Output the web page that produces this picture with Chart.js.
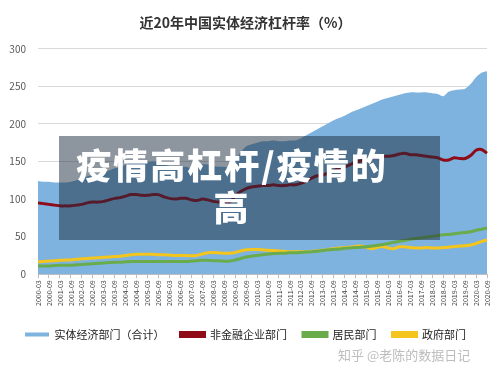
<!DOCTYPE html>
<html>
<head>
<meta charset="utf-8">
<script src="https://cdn.jsdelivr.net/npm/chart.js@4/dist/chart.umd.min.js"></script>
<style>
  html, body { margin: 0; padding: 0; background: #fff; }
  #wrap { position: relative; width: 500px; height: 378px; overflow: hidden; }
  #banner { position: absolute; left: 59px; top: 136px; width: 381px; height: 104px; background: rgba(28, 44, 62, 0.5); }
  #bannerText { position: absolute; left: 59px; top: 143px; width: 346px; text-align: center; color: #fff;
    font-family: "Noto Sans CJK SC", sans-serif; font-weight: 900; font-size: 35px; letter-spacing: 2px; line-height: 42px; }
  #mark { position: absolute; left: 338px; top: 345px; font-family: "Noto Sans CJK SC", sans-serif; font-size: 13px; color: #bdbdbd; }
</style>
</head>
<body>
<div id="wrap">
  <canvas id="leverageChart" width="500" height="378"></canvas>
  <div id="banner"></div>
  <div id="bannerText">疫情高杠杆/疫情的<br>高</div>
  <div id="mark">知乎 @老陈的数据日记</div>
</div>
<script>
const quarters = [
    '2000-03', '2000-06', '2000-09', '2000-12', '2001-03', '2001-06', '2001-09', '2001-12',
    '2002-03', '2002-06', '2002-09', '2002-12', '2003-03', '2003-06', '2003-09', '2003-12',
    '2004-03', '2004-06', '2004-09', '2004-12', '2005-03', '2005-06', '2005-09', '2005-12',
    '2006-03', '2006-06', '2006-09', '2006-12', '2007-03', '2007-06', '2007-09', '2007-12',
    '2008-03', '2008-06', '2008-09', '2008-12', '2009-03', '2009-06', '2009-09', '2009-12',
    '2010-03', '2010-06', '2010-09', '2010-12', '2011-03', '2011-06', '2011-09', '2011-12',
    '2012-03', '2012-06', '2012-09', '2012-12', '2013-03', '2013-06', '2013-09', '2013-12',
    '2014-03', '2014-06', '2014-09', '2014-12', '2015-03', '2015-06', '2015-09', '2015-12',
    '2016-03', '2016-06', '2016-09', '2016-12', '2017-03', '2017-06', '2017-09', '2017-12',
    '2018-03', '2018-06', '2018-09', '2018-12', '2019-03', '2019-06', '2019-09', '2019-12',
    '2020-03', '2020-06', '2020-09'
];

// 实体经济部门（合计）
const totalSector = [
    124, 123, 123, 122, 122, 122, 123, 125,
    127, 130, 132, 133, 135, 138, 141, 142,
    146, 149, 150, 149, 149, 150, 149, 146,
    144, 142, 143, 143, 141, 141, 146, 146,
    144, 143, 143, 142, 152, 162, 170, 173,
    175, 177, 177, 178, 177, 177, 178, 178,
    181, 185, 189, 193, 197, 201, 205, 208,
    211, 215, 218, 221, 224, 227, 230, 233,
    235, 237, 239, 241, 242, 242, 242, 242,
    241, 240, 237, 243, 245, 246, 247, 253,
    262, 268, 270
];

// 非金融企业部门
const corporate = [
    95, 94, 93, 92, 91, 91, 91, 92,
    93, 95, 96, 96, 97, 99, 101, 102,
    104, 106, 106, 105, 105, 106, 106, 103,
    101, 100, 101, 101, 99, 98, 100, 99,
    97, 96, 97, 96, 104, 110, 114, 116,
    117, 118, 118, 119, 118, 118, 119, 119,
    121, 124, 128, 131, 132, 135, 138, 141,
    143, 146, 149, 151, 153, 155, 156, 157,
    157, 158, 160, 161, 159, 159, 158, 157,
    156, 155, 152, 152, 155, 154, 154, 158,
    165, 166, 161
];

// 居民部门
const household = [
    11, 11, 11, 11.5, 12, 12, 12, 12.5,
    13, 13.5, 14, 14.5, 15, 15.5, 16, 16,
    16.5, 17, 17, 17, 17, 17, 17, 17,
    17, 17, 17, 17, 17.5, 18, 18.5, 18.5,
    18, 18, 17.5, 17.5, 19, 21, 23, 24,
    25, 26, 27, 27.5, 28, 28, 28.5, 28.5,
    29, 29.5, 30, 30.5, 31.5, 32.5, 33, 33.5,
    34.5, 35, 35.5, 36, 36.5, 37.5, 38.5, 39.5,
    41, 42.5, 44, 45, 46.5, 47.5, 48.5, 49.5,
    50.5, 51.5, 52.5, 53, 54, 55, 55.5, 56.5,
    58.5, 60, 61.5
];

// 政府部门
const government = [
    16.5, 17, 17.5, 18, 18.5, 19, 19, 20,
    20.5, 21, 21.5, 22, 22.5, 23, 23.5, 24,
    25, 26, 26.5, 26.5, 26.5, 26.5, 26, 26,
    25.5, 25, 25, 25, 24.5, 25, 27, 28.5,
    29, 28.5, 28, 28, 29, 31, 32.5, 33,
    33, 32.5, 32, 31.5, 31, 30.5, 30, 30,
    30, 30, 30.5, 31, 32, 33, 34, 35,
    35.5, 36, 37, 37.5, 36, 34, 36, 37,
    35, 34, 36.5, 36.5, 35.5, 35, 35, 35.5,
    35, 35, 35.5, 36, 37, 37.5, 38, 39,
    41, 43.5, 45.5
];

const yTicks = [0, 50, 100, 150, 200, 250, 300];

Chart.defaults.font.family = '"Noto Sans CJK SC", "Liberation Sans", sans-serif';

function lineSet(label, data, color) {
    return {
        label: label,
        data: data,
        borderColor: color,
        backgroundColor: color,
        borderWidth: 3,
        pointRadius: 0,
        tension: 0.3,
        fill: false
    };
}

new Chart(document.getElementById('leverageChart').getContext('2d'), {
    type: 'line',
    data: {
        labels: quarters,
        datasets: [
            {
                label: '实体经济部门（合计）',
                data: totalSector,
                borderColor: '#7db3de',
                backgroundColor: '#7db3de',
                borderWidth: 0,
                pointRadius: 0,
                tension: 0.3,
                fill: 'origin'
            },
            lineSet('非金融企业部门', corporate, '#8e0b17'),
            lineSet('居民部门', household, '#6aab4c'),
            lineSet('政府部门', government, '#f4c51c')
        ]
    },
    options: {
        responsive: false,
        animation: false,
        layout: { padding: { left: 4, right: 13, top: 0, bottom: 28 } },
        plugins: {
            filler: { drawTime: 'beforeDatasetsDraw' },
            tooltip: { enabled: false },
            title: {
                display: true,
                text: '近20年中国实体经济杠杆率（%）',
                color: '#333',
                font: { size: 14, weight: 'bold' },
                padding: { top: 14, bottom: 18 }
            },
            legend: {
                position: 'bottom',
                labels: {
                    boxWidth: 24,
                    boxHeight: 4,
                    padding: 16,
                    color: '#222',
                    font: { size: 11 },
                    sort: (a, b) => a.datasetIndex - b.datasetIndex
                }
            }
        },
        scales: {
            x: {
                afterFit: s => { s.height += 5; },
                grid: { display: true, drawOnChartArea: false, tickLength: 4, color: '#bfbfbf' },
                border: { color: '#bfbfbf' },
                ticks: {
                    autoSkip: false,
                    maxRotation: 90,
                    minRotation: 90,
                    padding: 2,
                    color: '#404040',
                    font: { size: 7 },
                    callback: function (val, i) {
                        const lab = quarters[i];
                        return (lab.endsWith('-03') || lab.endsWith('-09')) ? lab : null;
                    }
                }
            },
            y: {
                min: 0,
                max: 300,
                afterFit: s => { s.width = 34; },
                afterBuildTicks: s => { s.ticks = yTicks.map(v => ({ value: v })); },
                grid: { color: '#d9d9d9', drawTicks: false },
                border: { display: false },
                ticks: { padding: 12, color: '#595959', font: { size: 10 } }
            }
        }
    }
});
</script>
</body>
</html>
